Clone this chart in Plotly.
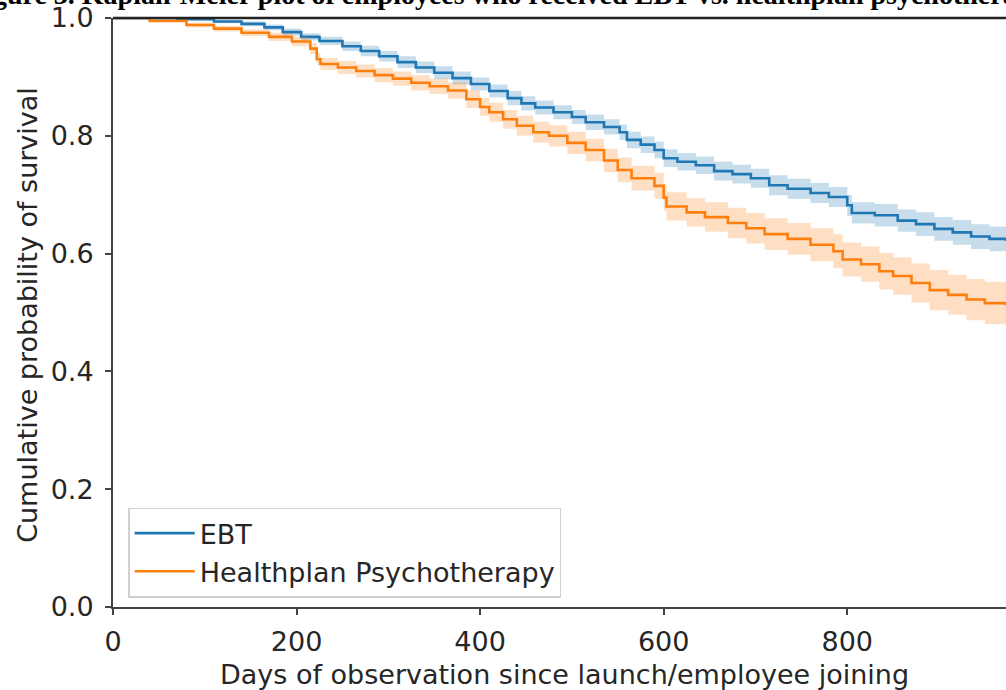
import plotly.graph_objects as go

# ---- data ----
ebt_days = [0, 70, 110, 140, 165, 185, 205, 225, 250, 270, 290, 310, 330, 350, 370, 390, 410, 430, 445, 460,
            480, 500, 515, 535, 552, 560, 575, 590, 600, 615, 635, 655, 675, 695, 715, 735, 760, 780, 800, 805,
            830, 855, 875, 895, 915, 935, 955, 973]
ebt_surv = [1.0, 0.998, 0.994, 0.990, 0.984, 0.976, 0.968, 0.961, 0.952, 0.944, 0.935, 0.925, 0.916, 0.907, 0.898,
            0.888, 0.876, 0.864, 0.855, 0.848, 0.840, 0.832, 0.823, 0.815, 0.806, 0.793, 0.785, 0.776, 0.762, 0.756,
            0.750, 0.740, 0.735, 0.728, 0.716, 0.710, 0.703, 0.696, 0.682, 0.669, 0.665, 0.656, 0.650, 0.642, 0.636,
            0.629, 0.625, 0.622]
ebt_hi = [1.0, 1.0, 0.997, 0.994, 0.989, 0.982, 0.974, 0.968, 0.960, 0.953, 0.944, 0.935, 0.926, 0.918, 0.909,
          0.899, 0.887, 0.876, 0.867, 0.860, 0.852, 0.844, 0.836, 0.828, 0.819, 0.807, 0.799, 0.790, 0.777, 0.771,
          0.765, 0.756, 0.751, 0.744, 0.733, 0.727, 0.720, 0.713, 0.700, 0.687, 0.684, 0.675, 0.670, 0.662, 0.657,
          0.650, 0.646, 0.644]
ebt_lo = [1.0, 0.996, 0.991, 0.986, 0.979, 0.970, 0.962, 0.954, 0.944, 0.935, 0.926, 0.915, 0.906, 0.896, 0.887,
          0.877, 0.865, 0.852, 0.843, 0.836, 0.828, 0.820, 0.810, 0.802, 0.793, 0.779, 0.771, 0.762, 0.747, 0.741,
          0.735, 0.724, 0.719, 0.712, 0.699, 0.693, 0.686, 0.679, 0.664, 0.651, 0.646, 0.637, 0.630, 0.622, 0.615,
          0.608, 0.604, 0.600]

hp_days = [0, 40, 80, 110, 140, 170, 195, 215, 222, 226, 245, 265, 285, 305, 325, 345, 365, 385, 400, 410,
           425, 440, 458, 475, 495, 515, 535, 550, 565, 590, 600, 603, 625, 645, 670, 690, 710, 735, 760, 785,
           795, 815, 835, 850, 870, 890, 910, 930, 950, 973]
hp_surv = [1.0, 0.995, 0.988, 0.982, 0.975, 0.968, 0.960, 0.948, 0.930, 0.922, 0.916, 0.910, 0.903, 0.897, 0.890,
           0.884, 0.877, 0.862, 0.849, 0.840, 0.828, 0.817, 0.806, 0.800, 0.788, 0.776, 0.758, 0.742, 0.728, 0.715,
           0.695, 0.680, 0.670, 0.662, 0.652, 0.643, 0.633, 0.625, 0.615, 0.604, 0.590, 0.582, 0.570, 0.562, 0.550,
           0.538, 0.530, 0.522, 0.516, 0.512]
hp_hi = [1.0, 0.997, 0.992, 0.987, 0.981, 0.975, 0.968, 0.957, 0.940, 0.932, 0.927, 0.921, 0.915, 0.909, 0.903,
         0.897, 0.891, 0.877, 0.864, 0.856, 0.844, 0.834, 0.824, 0.818, 0.807, 0.795, 0.778, 0.763, 0.749, 0.737,
         0.718, 0.704, 0.694, 0.687, 0.678, 0.669, 0.660, 0.652, 0.643, 0.633, 0.619, 0.612, 0.601, 0.594, 0.583,
         0.572, 0.564, 0.557, 0.552, 0.548]
hp_lo = [1.0, 0.993, 0.984, 0.977, 0.969, 0.961, 0.952, 0.939, 0.920, 0.912, 0.905, 0.899, 0.891, 0.885, 0.877,
         0.871, 0.863, 0.847, 0.834, 0.824, 0.812, 0.800, 0.788, 0.782, 0.769, 0.757, 0.738, 0.721, 0.707, 0.693,
         0.672, 0.656, 0.646, 0.637, 0.626, 0.617, 0.606, 0.598, 0.587, 0.575, 0.561, 0.552, 0.539, 0.530, 0.517,
         0.504, 0.496, 0.487, 0.480, 0.476]

series_names = ["EBT", "Healthplan Psychotherapy"]
x_ticks = [0, 200, 400, 600, 800]
y_ticks = [0.0, 0.2, 0.4, 0.6, 0.8, 1.0]
x_title = "Days of observation since launch/employee joining"
y_title = "Cumulative probability of survival"
title_text = "Figure 3. Kaplan-Meier plot of employees who received EBT vs. healthplan psychotherapy"

BLUE = "#1f77b4"
ORANGE = "#ff7f0e"
TXT = "#262626"
FONT = "DejaVu Sans"
FS = 27

fig = go.Figure()

for days, surv, hi, lo, name, col, fillc in [
    (ebt_days, ebt_surv, ebt_hi, ebt_lo, series_names[0], BLUE, "rgba(31,119,180,0.25)"),
    (hp_days, hp_surv, hp_hi, hp_lo, series_names[1], ORANGE, "rgba(255,127,14,0.25)"),
]:
    fig.add_trace(go.Scatter(x=days, y=hi, mode="lines", line=dict(width=0, shape="hv", color=col),
                             showlegend=False, hoverinfo="skip"))
    fig.add_trace(go.Scatter(x=days, y=lo, mode="lines", line=dict(width=0, shape="hv", color=col),
                             fill="tonexty", fillcolor=fillc, showlegend=False, hoverinfo="skip"))
    fig.add_trace(go.Scatter(x=days, y=surv, mode="lines", name=name,
                             line=dict(width=2.6, shape="hv", color=col)))

fig.update_layout(
    width=1006, height=690,
    margin=dict(l=113, r=0, t=18, b=83, autoexpand=False),
    paper_bgcolor="white", plot_bgcolor="white",
    font=dict(family=FONT, size=FS, color=TXT),
    showlegend=True,
    legend=dict(x=0.017, y=0.016, xanchor="left", yanchor="bottom", traceorder="normal",
                bgcolor="rgba(255,255,255,0.8)", bordercolor="#d0d0d0", borderwidth=1.5,
                font=dict(family=FONT, size=FS, color=TXT), itemwidth=60, tracegroupgap=0),
    xaxis=dict(range=[0, 973], tickvals=x_ticks, showgrid=False, zeroline=False,
               showline=True, linecolor="#444", linewidth=2, automargin=False,
               ticks="outside", ticklen=6, tickwidth=1.5, tickcolor="#444",
               ticklabelstandoff=4),
    yaxis=dict(range=[0, 1], tickvals=y_ticks, tickformat=".1f", showgrid=False, zeroline=False,
               showline=True, linecolor="#444", linewidth=2, automargin=False,
               ticks="outside", ticklen=6, tickwidth=1.5, tickcolor="#444",
               ticklabelstandoff=6),
    shapes=[dict(type="line", xref="paper", yref="paper", x0=0, x1=1, y0=1, y1=1,
                 line=dict(color="#222", width=2.5))],
    annotations=[
        dict(text="<b>" + title_text + "</b>", xref="paper", yref="paper",
             x=-0.165, y=1.0102, xanchor="left", yanchor="bottom", showarrow=False,
             font=dict(family="Liberation Serif", size=28, color="black")),
        dict(text=x_title, xref="paper", yref="paper", x=0.506, y=-0.1154,
             xanchor="center", yanchor="middle", showarrow=False,
             font=dict(family=FONT, size=FS, color=TXT)),
        dict(text=y_title, xref="paper", yref="paper", x=-0.0952, y=0.496, textangle=-90,
             xanchor="center", yanchor="middle", showarrow=False,
             font=dict(family=FONT, size=FS, color=TXT)),
    ],
)

fig.write_html("out.html", config={"displayModeBar": False},
               post_script="document.body.style.margin='0';document.body.style.padding='0';")
